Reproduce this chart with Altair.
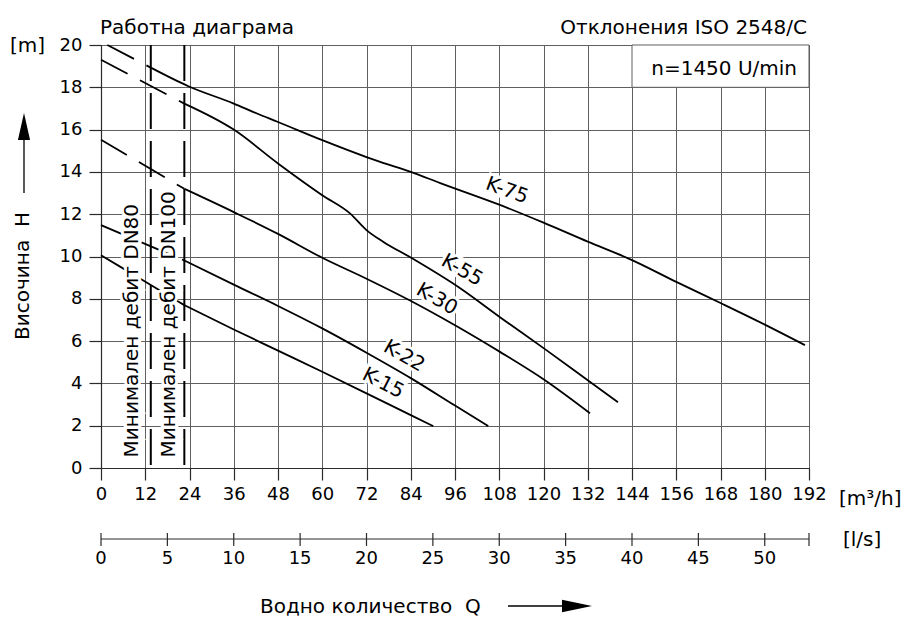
import altair as alt
import pandas as pd

# ---------------- data ----------------
Q_TICKS = list(range(0, 193, 12))          # m3/h axis
H_TICKS = list(range(0, 21, 2))            # m axis
LS_TICKS = [0, 5, 10, 15, 20, 25, 30, 35, 40, 45, 50]   # l/s axis
LS_END = 192 / 3.6

CURVE_NAMES = ["K-75", "K-55", "K-30", "K-22", "K-15"]
K75_Q = [13.5, 23.7, 36, 42.3, 48, 60, 72, 75.7, 84, 92, 108, 120, 132, 144, 156, 168, 180, 190.9]
K75_H = [18.93, 18.05, 17.23, 16.76, 16.36, 15.5, 14.7, 14.47, 14.0, 13.47, 12.45, 11.6, 10.7, 9.83, 8.8, 7.8, 6.78, 5.81]
K55_Q = [22.6, 36, 48, 60, 67.6, 72, 76.6, 84, 97.4, 108.2, 120.4, 132, 140.2]
K55_H = [17.23, 16.0, 14.4, 12.9, 12.03, 11.25, 10.69, 9.95, 8.5, 7.13, 5.62, 4.15, 3.11]
K30_Q = [22.6, 36, 48, 60, 72, 83.8, 96, 108.2, 120.4, 132.6]
K30_H = [13.2, 12.1, 11.07, 9.94, 8.95, 7.92, 6.75, 5.49, 4.15, 2.59]
K22_Q = [22.6, 36, 48, 60, 72, 84, 96, 105]
K22_H = [9.81, 8.67, 7.66, 6.6, 5.45, 4.25, 2.95, 1.98]
K15_Q = [22.6, 36, 48, 60, 72, 84, 90.1]
K15_H = [7.7, 6.55, 5.55, 4.55, 3.53, 2.5, 1.98]

# dashed (below minimum flow) parts
EXT_Q = [[1.73, 13.5], [0, 22.6], [0, 22.6], [0, 22.6], [0, 22.6]]
EXT_H = [[20.0, 18.93], [19.3, 17.23], [15.52, 13.2], [11.48, 9.81], [10.06, 7.7]]

# minimum flow lines
DN_Q = [13.5, 22.6]
DN_TEXT = ["Минимален дебит DN80", "Минимален дебит DN100"]
DN_TEXT_Q = [8.35, 18.4]
DN_TEXT_H = [0.5, 0.5]

# curve labels
LABEL_Q = [110.1, 97.9, 91.1, 82.2, 76.5]
LABEL_H = [13.12, 9.35, 7.98, 5.29, 4.01]
LABEL_ANGLE = [20, 30, 30, 30, 27]

BOX_Q = [144, 192]
BOX_H = [18, 20]
BOX_TEXT = "n=1450 U/min"

TITLE_LEFT = "Работна диаграма"
TITLE_RIGHT = "Отклонения ISO 2548/C"
Y_TITLE = "Височина\u00a0\u00a0H"
X_TITLE = "Водно количество\u00a0\u00a0Q"

# ---------------- frames ----------------
rows = []
for name, qs, hs in zip(CURVE_NAMES, [K75_Q, K55_Q, K30_Q, K22_Q, K15_Q],
                        [K75_H, K55_H, K30_H, K22_H, K15_H]):
    for i, (q, h) in enumerate(zip(qs, hs)):
        rows.append({"name": name, "i": i, "Q": q, "H": h})
curves = pd.DataFrame(rows)

rows = []
for name, qs, hs in zip(CURVE_NAMES, EXT_Q, EXT_H):
    for i, (q, h) in enumerate(zip(qs, hs)):
        rows.append({"name": name, "i": i, "Q": q, "H": h})
ext = pd.DataFrame(rows)

labels = pd.DataFrame({"t": CURVE_NAMES, "Q": LABEL_Q, "H": LABEL_H, "a": LABEL_ANGLE})
dn = pd.DataFrame({"Q": DN_Q})
dntext = pd.DataFrame({"t": DN_TEXT, "Q": DN_TEXT_Q, "H": DN_TEXT_H})
box = pd.DataFrame({"Q": [BOX_Q[0]], "Q2": [BOX_Q[1]], "H": [BOX_H[0]], "H2": [BOX_H[1]]})

ls = pd.DataFrame({"ls": LS_TICKS + [LS_END]})
ls["Q"] = ls["ls"] * 3.6
ls["t"] = [str(v) for v in LS_TICKS] + [""]
lsline = pd.DataFrame({"Q": [0], "Q2": [192]})

FONT = "DejaVu Sans"
GRID = "#5f5f5f"
AX = "#2a2a2a"

xs = alt.Scale(domain=[0, 192], nice=False, zero=False)
ys = alt.Scale(domain=[0, 20], nice=False, zero=False)
xaxis = alt.Axis(values=Q_TICKS, title=None, grid=True, tickSize=12, labelPadding=5,
                 labelFlush=False, labelOverlap=False)
yaxis = alt.Axis(values=H_TICKS, title=None, grid=True, tickSize=12, labelPadding=7,
                 labelFlush=False, labelOverlap=False)

X = alt.X("Q:Q", scale=xs, axis=xaxis)
Y = alt.Y("H:Q", scale=ys, axis=yaxis)

solid = alt.Chart(curves).mark_line(color="black", strokeWidth=1.8, interpolate="monotone").encode(
    x=X, y=Y, detail="name:N", order="i:Q")
dashed = alt.Chart(ext).mark_line(color="black", strokeWidth=1.8, strokeDash=[30, 14]).encode(
    x=X, y=Y, detail="name:N", order="i:Q")
dnlines = alt.Chart(dn).mark_rule(color="black", strokeWidth=2, strokeDash=[36, 12]).encode(x=X)

lab_halo = alt.Chart(labels).mark_text(fontSize=20, font=FONT, color="white", stroke="white",
                                       strokeWidth=6, align="center", baseline="middle").encode(
    x=X, y=Y, text="t:N", angle=alt.Angle("a:Q", scale=None))
lab = alt.Chart(labels).mark_text(fontSize=20, font=FONT, color="black",
                                  align="center", baseline="middle").encode(
    x=X, y=Y, text="t:N", angle=alt.Angle("a:Q", scale=None))

dn_halo = alt.Chart(dntext).mark_text(fontSize=20, font=FONT, color="white", stroke="white",
                                      strokeWidth=6, angle=270, align="left",
                                      baseline="middle").encode(x=X, y=Y, text="t:N")
dn_lab = alt.Chart(dntext).mark_text(fontSize=20, font=FONT, color="black", angle=270,
                                     align="left", baseline="middle").encode(x=X, y=Y, text="t:N")

boxrect = alt.Chart(box).mark_rect(fill="white", stroke=GRID, strokeWidth=1).encode(
    x=X, x2="Q2:Q", y=Y, y2="H2:Q")


def ptext(txt, x, y, **kw):
    return alt.Chart(pd.DataFrame({"t": [txt]})).mark_text(
        font=FONT, fontSize=20, color="black", **kw).encode(
        x=alt.value(x), y=alt.value(y), text="t:N")


boxtext = ptext(BOX_TEXT, 696, 30, align="right", baseline="alphabetic")
t_left = ptext(TITLE_LEFT, -1, -11, align="left", baseline="alphabetic")
t_right = ptext(TITLE_RIGHT, 706, -11, align="right", baseline="alphabetic")
t_m = ptext("[m]", -91, 7, align="left", baseline="alphabetic")
t_m3h = ptext("[m³/h]", 738, 460, align="left", baseline="alphabetic")
t_ls = ptext("[l/s]", 742, 501, align="left", baseline="alphabetic")
t_ytitle = ptext(Y_TITLE, -78, 231, align="center", baseline="middle", angle=270)
t_xtitle = ptext(X_TITLE, 159, 568, align="left", baseline="alphabetic")

# secondary l/s axis
ls_line = alt.Chart(lsline).mark_rule(color=AX, strokeWidth=1.2).encode(
    x=X, x2="Q2:Q", y=alt.value(494))
ls_ticks = alt.Chart(ls).mark_rule(color=AX, strokeWidth=1.2).encode(
    x=X, y=alt.value(488), y2=alt.value(501))
ls_labels = alt.Chart(ls).mark_text(font=FONT, fontSize=18, color="black", align="center",
                                    baseline="alphabetic").encode(
    x=X, y=alt.value(519), text="t:N")

# arrows
one = pd.DataFrame({"a": [0]})
y_shaft = alt.Chart(one).mark_rule(color="black", strokeWidth=1.3).encode(
    x=alt.value(-77), y=alt.value(94), y2=alt.value(148))
y_head = alt.Chart(one).mark_point(shape="M -0.45 1 L 0 -1 L 0.45 1 Z", filled=True,
                                   color="black", opacity=1, size=729).encode(
    x=alt.value(-77), y=alt.value(81.5))
x_shaft = alt.Chart(one).mark_rule(color="black", strokeWidth=1.3).encode(
    x=alt.value(407), x2=alt.value(466), y=alt.value(561))
x_head = alt.Chart(one).mark_point(shape="M -1 -0.42 L 1 0 L -1 0.42 Z", filled=True,
                                   color="black", opacity=1, size=900).encode(
    x=alt.value(476), y=alt.value(561))

chart = alt.layer(
    solid, dashed, dnlines, lab_halo, lab, dn_halo, dn_lab, boxrect, boxtext,
    t_left, t_right, t_m, t_m3h, t_ls, t_ytitle, t_xtitle,
    ls_line, ls_ticks, ls_labels, y_shaft, y_head, x_shaft, x_head
).properties(
    width=708, height=423,
    padding={"left": 93, "top": 37, "right": 100, "bottom": 150},
    autosize=alt.AutoSizeParams(type="none"),
).configure(font=FONT).configure_view(stroke=GRID).configure_axis(
    labelFont=FONT, labelFontSize=18, labelColor="black",
    tickColor=AX, domainColor=AX, tickWidth=1.2, domainWidth=1.2,
    gridColor=GRID, gridWidth=1, gridOpacity=1,
)

chart.save("out.html", embed_options={"renderer": "svg", "actions": False})
